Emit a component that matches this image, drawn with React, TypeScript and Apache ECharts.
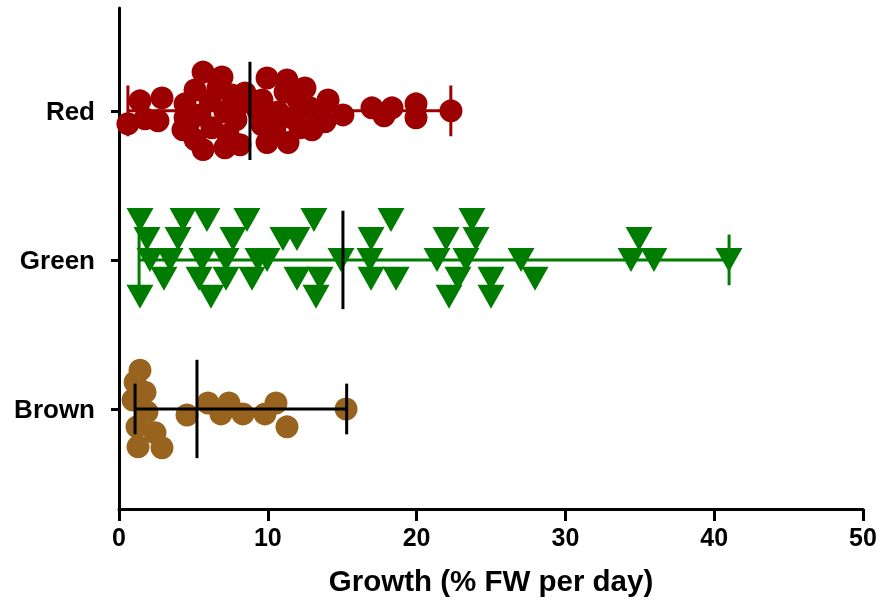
import React, { useEffect, useRef } from "react";
import * as echarts from "echarts";

// ---- data ----
const groupNames = ["Red", "Green", "Brown"];
const groupPositions = [3, 2, 1];
const groupMin = [0.6, 1.35, 1.08];
const groupMax = [22.3, 41.0, 15.3];
const groupMedian = [8.8, 15.05, 5.24];

const redValues = [
  0.6, 1.41, 1.75, 2.89, 2.62,
  4.3, 4.44, 4.64, 5.11, 5.44, 5.65, 5.65, 6.12, 6.25, 6.65, 7.12, 6.92, 7.12, 7.33, 7.59, 7.86, 8.13, 8.13, 8.47,
  4.44, 5.11,
  9.61, 9.61, 9.95, 9.95, 10.69, 11.16, 11.29, 11.36, 11.63, 12.03, 12.16, 12.84, 14.05, 13.84, 15.05,
  12.5, 10.48, 12.97, 9.34,
  17.0, 17.81, 18.35, 19.96, 19.96, 22.31,
];
const redSpread = [
  -0.087, 0.067, -0.053, 0.087, -0.067,
  -0.127, 0.047, -0.093, 0.14, -0.027, 0.26, -0.26, 0.073, -0.113, 0.153, -0.247, 0.227, -0.007, -0.16, 0.107, -0.06, -0.227, 0.047, 0.12,
  -0.047, -0.193,
  0.073, -0.093, 0.22, -0.213, -0.007, 0.127, 0.207, -0.213, -0.047, 0.073, -0.113, 0.02, 0.073, -0.073, -0.027,
  0.153, -0.113, -0.127, 0,
  0.02, -0.033, 0.02, 0.047, -0.047, 0,
];

const greenValues = [
  1.41, 4.3, 5.91, 8.6, 13.1, 18.28, 23.72,
  1.88, 3.97, 7.66, 11.02, 11.96, 16.94, 21.98, 23.99, 34.95,
  2.08, 3.43, 5.58, 7.19, 9.34, 9.95, 14.92, 16.87, 21.37, 23.32, 27.02, 34.41, 35.95, 40.99,
  3.02, 5.38, 7.19, 8.94, 11.96, 13.51, 16.94, 18.62, 22.78, 25.0, 27.96,
  1.41, 6.18, 13.24, 22.18, 25.0,
];
const greenSpread = [
  0.267, 0.267, 0.267, 0.267, 0.267, 0.267, 0.267,
  0.14, 0.14, 0.14, 0.14, 0.14, 0.14, 0.14, 0.14, 0.14,
  0, 0, 0, 0, 0, 0, 0, 0, 0, 0, 0, 0, 0, 0,
  -0.127, -0.127, -0.127, -0.127, -0.127, -0.127, -0.127, -0.127, -0.127, -0.127, -0.127,
  -0.247, -0.247, -0.247, -0.247, -0.247,
];

const brownValues = [
  1.41, 1.08, 1.75, 0.94, 1.88, 1.21, 2.42, 1.28, 2.89,
  4.57, 5.98, 6.85, 7.39, 8.33, 9.81, 10.55, 11.29, 15.26,
];
const brownSpread = [
  0.26, 0.18, 0.113, 0.06, -0.02, -0.12, -0.16, -0.253, -0.26,
  -0.04, 0.04, -0.033, 0.04, -0.033, -0.033, 0.04, -0.12, 0,
];

const xTicks = [0, 10, 20, 30, 40, 50];
const xTitle = "Growth (% FW per day)";

// ---- styles ----
const FONT = '"Liberation Sans", Arial, Helvetica, sans-serif';
const RED = "#9c0000";
const GREEN = "#007d00";
const BROWN = "#98631f";
const BLACK = "#000000";
const rangeColors = [RED, GREEN, BLACK];

export default function App() {
  const ref = useRef<HTMLDivElement>(null);

  useEffect(() => {
    if (!ref.current) return;
    const chart = echarts.init(ref.current, null, { renderer: "svg" });

    const seg = (pts: number[][], color: string) => ({
      type: "line",
      data: pts,
      symbol: "none",
      silent: true,
      z: 5,
      lineStyle: { color, width: 3, cap: "butt" },
    });

    const barSeries: any[] = [];
    groupNames.forEach((_, g) => {
      const b = groupPositions[g];
      const mn = groupMin[g];
      const mx = groupMax[g];
      const md = groupMedian[g];
      const c = rangeColors[g];
      barSeries.push(seg([[mn, b], [mx, b]], c));
      barSeries.push(seg([[mn, b - 0.17], [mn, b + 0.17]], c));
      barSeries.push(seg([[mx, b - 0.17], [mx, b + 0.17]], c));
      barSeries.push(seg([[md, b - 0.33], [md, b + 0.33]], BLACK));
    });

    chart.setOption({
      animation: false,
      grid: { left: 119, right: 19, top: 8, bottom: 100 },
      xAxis: {
        type: "value",
        min: xTicks[0],
        max: xTicks[xTicks.length - 1],
        interval: 10,
        splitLine: { show: false },
        axisLine: { show: true, onZero: false, lineStyle: { color: BLACK, width: 3 } },
        axisTick: { show: true, length: 12, lineStyle: { color: BLACK, width: 3 } },
        axisLabel: {
          color: BLACK,
          fontFamily: FONT,
          fontWeight: "bold",
          fontSize: 25,
          margin: 15,
        },
        name: xTitle,
        nameLocation: "middle",
        nameGap: 56,
        nameTextStyle: { color: BLACK, fontFamily: FONT, fontWeight: "bold", fontSize: 29.5 },
      },
      yAxis: {
        type: "value",
        min: 0.329,
        max: 3.69,
        splitLine: { show: false },
        axisLine: { show: true, onZero: false, lineStyle: { color: BLACK, width: 3 } },
        axisTick: { show: true, customValues: groupPositions, length: 8, lineStyle: { color: BLACK, width: 3 } },
        axisLabel: {
          customValues: groupPositions,
          formatter: (v: number) => {
            const i = groupPositions.findIndex((p) => Math.abs(p - v) < 1e-6);
            return i >= 0 ? groupNames[i] : "";
          },
          color: BLACK,
          fontFamily: FONT,
          fontWeight: "bold",
          fontSize: 26,
          margin: 24,
        },
      },
      series: [
        {
          type: "scatter",
          data: redValues.map((v, i) => [v, groupPositions[0] + redSpread[i]]),
          symbol: "circle",
          symbolSize: 23,
          itemStyle: { color: RED, opacity: 1 },
          z: 2,
        },
        {
          type: "scatter",
          data: greenValues.map((v, i) => [v, groupPositions[1] + greenSpread[i]]),
          symbol: "triangle",
          symbolRotate: 180,
          symbolSize: [27, 24],
          itemStyle: { color: GREEN, opacity: 1 },
          z: 2,
        },
        {
          type: "scatter",
          data: brownValues.map((v, i) => [v, groupPositions[2] + brownSpread[i]]),
          symbol: "circle",
          symbolSize: 23,
          itemStyle: { color: BROWN, opacity: 1 },
          z: 2,
        },
        ...barSeries,
      ],
    });

    return () => chart.dispose();
  }, []);

  return (
    <div
      ref={ref}
      style={{ position: "fixed", left: 0, top: 0, width: 882, height: 609 }}
    />
  );
}
